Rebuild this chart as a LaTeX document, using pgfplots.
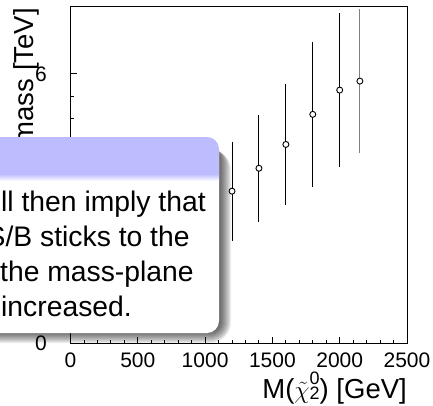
\documentclass[border=0pt]{standalone}
\usepackage{pgfplots}
\pgfplotsset{compat=1.18}
\usepackage{pgfplotstable}
\usepackage{fontspec}
\setmainfont{Liberation Sans}
\definecolor{titlecol}{RGB}{188,188,255}
\pgfplotstableread{
x y e
1200 3.39 1.10
1400 3.90 1.19
1600 4.43 1.355
1800 5.10 1.61
2000 5.64 1.715
}\blackpts
\pgfplotstableread{
x y e
2150 5.84 1.61
}\graypts
\begin{document}
\begin{tikzpicture}[x=1pt,y=1pt]
\useasboundingbox (0,0) rectangle (433,405);
\clip (0,0) rectangle (433,405);
\begin{axis}[
  at={(70.5pt,61.5pt)}, anchor=south west,
  scale only axis, width=336.5pt, height=337pt,
  xmin=0, xmax=2500, ymin=0, ymax=7.5,
  xtick={0,500,...,2500}, ytick={0,2,4,6},
  minor x tick num=4, minor y tick num=3,
  tick align=inside, tick pos=left,
  major tick length=6.5pt, minor tick length=3.5pt,
  axis line style={line width=0.9pt},
  every tick/.style={line width=0.9pt, black},
  /pgf/number format/assume math mode=true,
  /pgf/number format/1000 sep={},
  ticklabel style={font=\fontsize{21}{25}\selectfont, inner sep=0pt},
  xticklabel style={anchor=north, yshift=-9pt},
  yticklabel style={anchor=east, xshift=-23.5pt},
  xlabel={M($\tilde{\chi}$\makebox[0pt][l]{\raisebox{14pt}{\fontsize{18}{18}\selectfont 0}}\raisebox{-1pt}{\fontsize{18}{18}\selectfont 2}) [GeV]},
  ylabel={mass [TeV]},
  label style={font=\fontsize{27.5}{32}\selectfont, inner sep=0pt},
  xlabel style={at={(axis description cs:1,0)}, anchor=base east, yshift=-54.8pt},
  ylabel style={at={(axis description cs:-0.1085,0.9955)}, anchor=base east},
]
\addplot[draw=none, mark=none, error bars/.cd, y dir=both, y explicit, error mark=none,
  error bar style={line width=1pt, black}] table[x=x, y=y, y error=e] {\blackpts};
\addplot[draw=none, mark=none, error bars/.cd, y dir=both, y explicit, error mark=none,
  error bar style={line width=1pt, black!50}] table[x=x, y=y, y error=e] {\graypts};
\addplot[only marks, mark=*, mark size=3pt, mark options={fill=white, draw=black, line width=0.9pt}]
  table[x=x, y=y] {\blackpts};
\addplot[only marks, mark=*, mark size=3pt, mark options={fill=white, draw=black, line width=0.9pt}]
  table[x=x, y=y] {\graypts};
\end{axis}
% block shadow
\foreach \k in {1,...,12}{
  \pgfmathsetmacro{\rc}{9+\k}
  \pgfmathsetmacro{\yb}{74-\k}
  \pgfmathsetmacro{\xr}{219+\k}
  \pgfmathsetmacro{\yt}{258-0.2*\k}
  \fill[black, opacity=0.07, rounded corners=\rc pt] (-40,\yb) rectangle (\xr,\yt);
}
% block body
\fill[white, rounded corners=12pt] (-40,72) rectangle (219,268);
\begin{scope}
  \clip[rounded corners=12pt] (-40,72) rectangle (219,268);
  \fill[titlecol] (-50,231) rectangle (230,275);
  \shade[top color=titlecol, bottom color=white] (-50,224) rectangle (230,231);
\end{scope}
\begin{scope}[every node/.style={inner sep=0pt, anchor=base west, font=\fontsize{28.3}{34}\selectfont}]
  \node at (1,193.3) {ll then imply that};
  \node at (-13.5,158.3) {S/B sticks to the};
  \node at (0,123.3) {the mass-plane};
  \node at (1,89) {increased.};
\end{scope}
\end{tikzpicture}
\end{document}
